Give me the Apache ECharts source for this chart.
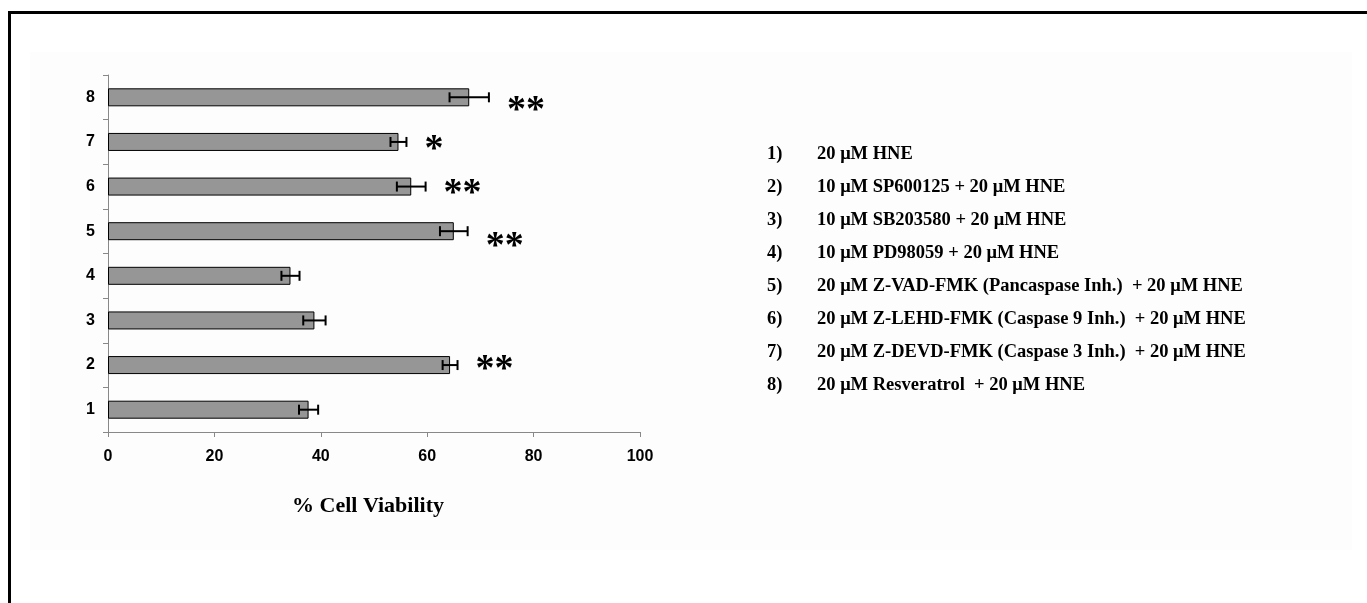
<!DOCTYPE html>
<html>
<head>
<meta charset="utf-8">
<script src="https://cdn.jsdelivr.net/npm/echarts@6/dist/echarts.min.js"></script>
<style>
  html, body { margin: 0; padding: 0; background: #fff; }
  #chart { width: 1367px; height: 603px; }
</style>
</head>
<body>
<div id="chart"></div>
<script>
// groups, bottom to top
const groups = ['1', '2', '3', '4', '5', '6', '7', '8'];
const viability = [37.7, 64.3, 38.8, 34.3, 65.0, 57.0, 54.6, 67.9];
const sem = [1.8, 1.4, 2.1, 1.7, 2.6, 2.7, 1.5, 3.7];
const stars = ['', '**', '', '', '**', '**', '*', '**'];
const xTicks = [0, 20, 40, 60, 80, 100];
const treatments = [
  '20 \u03bcM HNE',
  '10 \u03bcM SP600125 + 20 \u03bcM HNE',
  '10 \u03bcM SB203580 + 20 \u03bcM HNE',
  '10 \u03bcM PD98059 + 20 \u03bcM HNE',
  '20 \u03bcM Z-VAD-FMK (Pancaspase Inh.)  + 20 \u03bcM HNE',
  '20 \u03bcM Z-LEHD-FMK (Caspase 9 Inh.)  + 20 \u03bcM HNE',
  '20 \u03bcM Z-DEVD-FMK (Caspase 3 Inh.)  + 20 \u03bcM HNE',
  '20 \u03bcM Resveratrol  + 20 \u03bcM HNE'
];

const chart = echarts.init(document.getElementById('chart'));

// small vertical nudges for the asterisks, as placed in the figure
const starNudge = [0, -3, 0, 0, 8, 0, 0, 6];

const legendText = [];
treatments.forEach(function (t, i) {
  const y = 155 + i * 33;
  legendText.push({
    type: 'text', left: 767, top: y - 10,
    style: { text: (i + 1) + ')', font: 'bold 18.5px "Liberation Serif"', fill: '#000' }
  });
  legendText.push({
    type: 'text', left: 817, top: y - 10,
    style: { text: t, font: 'bold 18.5px "Liberation Serif"', fill: '#000' }
  });
});

const option = {
  animation: false,
  backgroundColor: '#fff',
  graphic: [
    { type: 'rect', shape: { x: 30, y: 52, width: 1322, height: 498 }, style: { fill: '#fdfdfd' }, z: -10 },
    { type: 'rect', shape: { x: 8, y: 11, width: 1359, height: 3 }, style: { fill: '#000' } },
    { type: 'rect', shape: { x: 8, y: 11, width: 3, height: 592 }, style: { fill: '#000' } }
  ].concat(legendText),
  grid: { left: 108, right: 727, top: 75, bottom: 171 },
  xAxis: {
    type: 'value', min: 0, max: 100, interval: 20,
    name: '% Cell Viability', nameLocation: 'middle', nameGap: 63,
    nameTextStyle: { fontFamily: 'Liberation Serif', fontWeight: 'bold', fontSize: 22, color: '#000', padding: [0, 12, 0, 0] },
    axisLine: { show: true, lineStyle: { color: '#888', width: 1 } },
    axisTick: { show: true, length: 5, lineStyle: { color: '#888' } },
    axisLabel: {
      margin: 17, fontFamily: 'Liberation Sans', fontWeight: 'bold', fontSize: 16, color: '#000',
      formatter: function (v) { return xTicks.indexOf(v) >= 0 ? String(v) : ''; }
    },
    splitLine: { show: false }
  },
  yAxis: {
    type: 'category', data: groups,
    axisLine: { show: true, lineStyle: { color: '#888', width: 1 } },
    axisTick: { show: true, length: 5, lineStyle: { color: '#888' } },
    axisLabel: { margin: 13, fontFamily: 'Liberation Sans', fontWeight: 'bold', fontSize: 16, color: '#000' }
  },
  series: [
    {
      type: 'bar', data: viability, barWidth: 18,
      itemStyle: { color: '#969696', borderColor: '#000', borderWidth: 1 }
    },
    {
      type: 'custom',
      data: viability.map(function (v, i) { return [i, v, sem[i]]; }),
      encode: { y: 0, x: 1 },
      renderItem: function (params, api) {
        const i = api.value(0), v = api.value(1), e = api.value(2);
        const lo = api.coord([v - e, i]);
        const hi = api.coord([v + e, i]);
        const cy = lo[1];
        const h = 5;
        const ls = { stroke: '#000', lineWidth: 2 };
        const children = [
          { type: 'line', shape: { x1: lo[0], y1: cy, x2: hi[0], y2: cy }, style: ls },
          { type: 'line', shape: { x1: lo[0], y1: cy - h, x2: lo[0], y2: cy + h }, style: ls },
          { type: 'line', shape: { x1: hi[0], y1: cy - h, x2: hi[0], y2: cy + h }, style: ls }
        ];
        if (stars[i]) {
          children.push({
            type: 'text',
            style: {
              text: stars[i], x: hi[0] + 18, y: cy + 8 + starNudge[i],
              font: 'bold 38px "Liberation Serif"', fill: '#000',
              textAlign: 'left', textVerticalAlign: 'middle'
            }
          });
        }
        return { type: 'group', children: children };
      },
      z: 5
    }
  ]
};

chart.setOption(option);
</script>
</body>
</html>
